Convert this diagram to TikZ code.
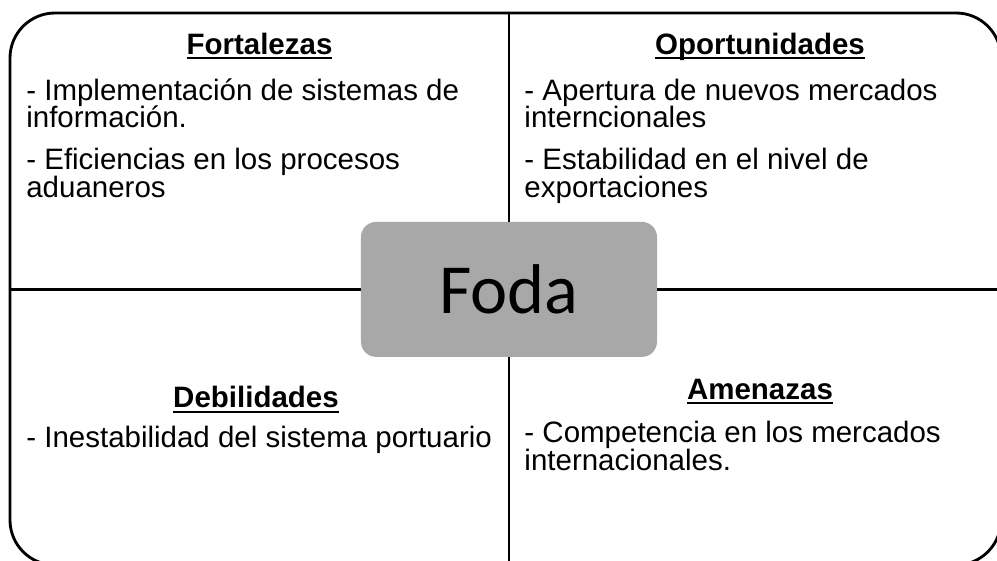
\documentclass[tikz,border=0pt]{standalone}
\usepackage{fontspec}
\setmainfont{Liberation Sans}
\newfontfamily\fodafont{Carlito}
\definecolor{fodagray}{RGB}{168,168,168}
\newsavebox{\titlebox}
\newcommand{\quadtitle}[1]{\sbox{\titlebox}{\textbf{#1}}\rlap{\rule[-3.6pt]{\wd\titlebox}{1.6pt}}\usebox{\titlebox}}
\newcommand{\renglones}[2]{{\baselineskip=20.5pt\lineskiplimit=-100pt\vtop{\hbox{#1}\hbox{#2}}}}
\tikzset{
  border/.style={line width=0.075cm},
  divider/.style={line width=0.07cm},
  linea/.style={anchor=base west, inner sep=0pt},
  titulo/.style={anchor=base, inner sep=0pt},
  centro/.style={fill=fodagray, rounded corners=0.40cm, minimum width=7.832cm, minimum height=3.572cm, inner sep=0pt}
}
\begin{document}
\begin{tikzpicture}
                \useasboundingbox (0.000000,0.000000) rectangle (26.379000,14.817000);
                \clip (0.000000,0.000000) rectangle (26.379000,14.817000);
                {\fontsize{22.2}{26}\selectfont

                % Drawing outer frame
                \draw [border, rounded corners=1.190000cm] (0.264600,14.473000) rectangle (26.485000,-0.132000);%

                % Marking centre box
                \node [centro] (foda) at (13.467000,7.160000) {\fodafont\fontsize{53}{60}\selectfont Foda};%

                % Ends of the dividing lines
                \coordinate (arriba) at (13.467000,14.473000);%
                \coordinate (abajo) at (13.467000,-0.132000);%
                \coordinate (izq) at (0.264600,7.160000);%
                \coordinate (der) at (26.485000,7.160000);%

                % Drawing dividing lines
                \draw [divider] (arriba) -- (foda.north);%
                \draw [divider] (foda.south) -- (abajo);%
                \draw [divider] (izq) -- (foda.west);%
                \draw [divider] (foda.east) -- (der);%

                % Marking quadrant Fortalezas
                \node [titulo] (fortalezas) at (6.866000,13.388000) {\quadtitle{Fortalezas}};%
                \node [linea] (fort1) at (0.690000,12.171000) {\renglones{- Implementación de sistemas de}{información.}};%
                \node [linea] (fort2) at (0.690000,10.319000) {\renglones{- Eficiencias en los procesos}{aduaneros}};%

                % Marking quadrant Oportunidades
                \node [titulo] (oportunidades) at (20.108000,13.388000) {\quadtitle{Oportunidades}};%
                \node [linea] (opor1) at (13.870000,12.171000) {\renglones{- Apertura de nuevos mercados}{interncionales}};%
                \node [linea] (opor2) at (13.870000,10.319000) {\renglones{- Estabilidad en el nivel de}{exportaciones}};%

                % Marking quadrant Debilidades
                \node [titulo] (debilidades) at (6.773000,4.022000) {\quadtitle{Debilidades}};%
                \node [linea] (debi1) at (0.690000,2.964000) {- Inestabilidad del sistema portuario};%

                % Marking quadrant Amenazas
                \node [titulo] (amenazas) at (20.108000,4.260000) {\quadtitle{Amenazas}};%
                \node [linea] (amen1) at (13.870000,3.096000) {\renglones{- Competencia en los mercados}{internacionales.}};%
                }
\end{tikzpicture}
\end{document}
